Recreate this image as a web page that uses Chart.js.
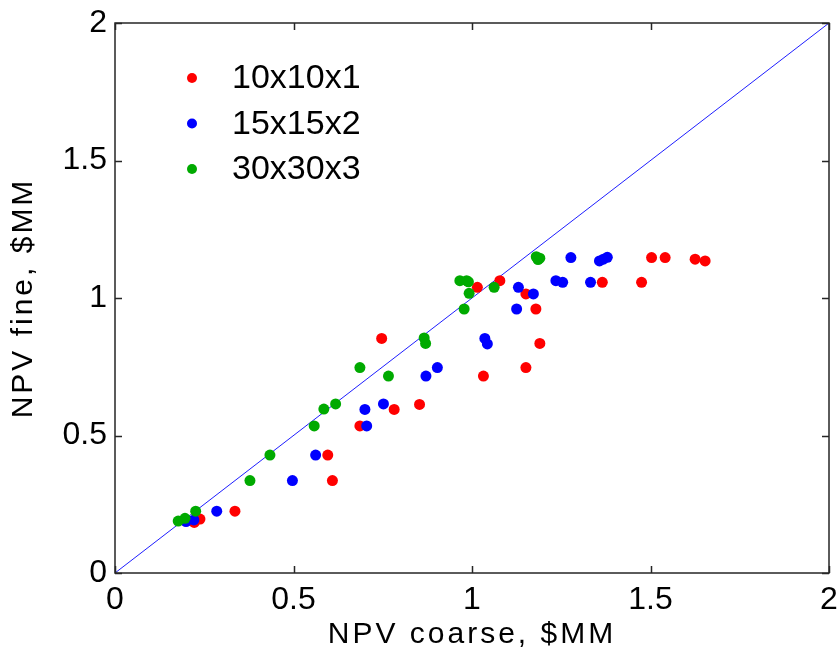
<!DOCTYPE html>
<html>
<head>
<meta charset="utf-8">
<script src="https://cdn.jsdelivr.net/npm/chart.js@4/dist/chart.umd.min.js"></script>
<style>
  html, body { margin: 0; padding: 0; background: #fff; }
  #wrap { width: 838px; height: 656px; }
</style>
</head>
<body>
<div id="wrap"><canvas id="c" width="838" height="656"></canvas></div>
<script>
// ---- Data ----
const seriesNames = ['10x10x1', '15x15x2', '30x30x3'];
const seriesColors = ['#ff0000', '#0000ff', '#00aa00'];

const redX = [0.222, 0.238, 0.336, 0.596, 0.609, 0.686, 0.747, 0.782, 0.853, 1.015, 1.032, 1.078, 1.151, 1.151, 1.179, 1.190, 1.365, 1.475, 1.503, 1.541, 1.625, 1.653];
const redY = [0.184, 0.196, 0.225, 0.429, 0.336, 0.535, 0.853, 0.595, 0.613, 1.039, 0.716, 1.063, 1.015, 0.747, 0.960, 0.835, 1.057, 1.057, 1.147, 1.147, 1.141, 1.135];

const blueX = [0.199, 0.221, 0.285, 0.497, 0.562, 0.700, 0.705, 0.752, 0.871, 0.903, 1.036, 1.043, 1.125, 1.130, 1.172, 1.235, 1.254, 1.277, 1.332, 1.357, 1.368, 1.379];
const blueY = [0.187, 0.193, 0.225, 0.336, 0.429, 0.595, 0.535, 0.615, 0.716, 0.747, 0.853, 0.833, 0.960, 1.039, 1.015, 1.063, 1.057, 1.147, 1.057, 1.135, 1.141, 1.148];

const greenX = [0.177, 0.196, 0.226, 0.378, 0.434, 0.558, 0.585, 0.618, 0.686, 0.766, 0.866, 0.870, 0.966, 0.985, 0.990, 0.992, 0.978, 1.062, 1.180, 1.185, 1.190];
const greenY = [0.189, 0.199, 0.225, 0.336, 0.429, 0.535, 0.596, 0.615, 0.747, 0.716, 0.855, 0.835, 1.063, 1.063, 1.059, 1.017, 0.960, 1.039, 1.150, 1.140, 1.145];

const diagX = [0, 2];
const diagY = [0, 2];

const xTickValues = [0, 0.5, 1, 1.5, 2];
const yTickValues = [0, 0.5, 1, 1.5, 2];
const xTickLabels = ['0', '0.5', '1', '1.5', '2'];
const yTickLabels = ['0', '0.5', '1', '1.5', '2'];
const xTitle = 'NPV coarse, $MM';
const yTitle = 'NPV fine, $MM';

// ---- Build ----
const FONT = '"Liberation Sans", Arial, Helvetica, sans-serif';
const toPts = (xs, ys) => xs.map((x, i) => ({ x: x, y: ys[i] }));

function spacedTitle(scale) {
  if (scale._spacedWrapped) return;
  scale._spacedWrapped = true;
  const orig = scale.drawTitle;
  scale.drawTitle = function () {
    const c = this.ctx;
    c.save();
    try { c.letterSpacing = '3px'; } catch (e) {}
    orig.apply(this, arguments);
    c.restore();
  };
}

const axisFrame = {
  id: 'axisFrame',
  afterDatasetsDraw(chart) {
    const { ctx, chartArea: a, scales: { x, y } } = chart;
    ctx.save();
    ctx.strokeStyle = '#262626';
    ctx.lineWidth = 1.5;
    ctx.strokeRect(a.left, a.top, a.right - a.left, a.bottom - a.top);
    const tl = 7;
    ctx.beginPath();
    xTickValues.forEach(v => {
      const px = Math.round(x.getPixelForValue(v)) + 0.5;
      ctx.moveTo(px, a.bottom); ctx.lineTo(px, a.bottom - tl);
      ctx.moveTo(px, a.top); ctx.lineTo(px, a.top + tl);
    });
    yTickValues.forEach(v => {
      const py = Math.round(y.getPixelForValue(v)) + 0.5;
      ctx.moveTo(a.left, py); ctx.lineTo(a.left + tl, py);
      ctx.moveTo(a.right, py); ctx.lineTo(a.right - tl, py);
    });
    ctx.stroke();
    ctx.restore();
  }
};

const insideLegend = {
  id: 'insideLegend',
  afterDraw(chart) {
    const { ctx, chartArea: a } = chart;
    ctx.save();
    ctx.font = '34px ' + FONT;
    ctx.textBaseline = 'middle';
    ctx.textAlign = 'left';
    seriesNames.forEach((name, i) => {
      const cy = a.top + 55 + i * 45.5;
      ctx.fillStyle = seriesColors[i];
      ctx.beginPath();
      ctx.arc(a.left + 77, cy, 5, 0, Math.PI * 2);
      ctx.fill();
      ctx.fillStyle = '#000';
      ctx.fillText(name, a.left + 117, cy + 1);
    });
    ctx.restore();
  }
};

new Chart(document.getElementById('c'), {
  type: 'scatter',
  data: {
    datasets: [
      { label: 'diag', type: 'line', data: toPts(diagX, diagY), borderColor: 'rgb(30,30,255)', borderWidth: 1, pointRadius: 0, fill: false, order: 10 },
      { label: seriesNames[0], data: toPts(redX, redY), backgroundColor: seriesColors[0], borderWidth: 0, pointRadius: 5.5, order: 3 },
      { label: seriesNames[1], data: toPts(blueX, blueY), backgroundColor: seriesColors[1], borderWidth: 0, pointRadius: 5.5, order: 2 },
      { label: seriesNames[2], data: toPts(greenX, greenY), backgroundColor: seriesColors[2], borderWidth: 0, pointRadius: 5.5, order: 1 }
    ]
  },
  options: {
    responsive: false,
    animation: false,
    events: [],
    layout: { padding: { left: 0, right: 9, top: 23, bottom: 0 } },
    plugins: { legend: { display: false }, tooltip: { enabled: false } },
    scales: {
      x: {
        type: 'linear', min: 0, max: 2, position: 'bottom',
        afterBuildTicks: s => { s.ticks = xTickValues.map(v => ({ value: v })); },
        ticks: { font: { size: 32, family: FONT }, color: '#000', padding: 8, maxRotation: 0,
                 callback: (v) => xTickLabels[xTickValues.indexOf(+v)] },
        grid: { display: false, drawTicks: false },
        border: { display: false },
        title: { display: true, text: xTitle, color: '#000', font: { size: 30, family: FONT }, padding: { top: 0, bottom: 3 } },
        afterFit: s => { s.height = 83; s.paddingLeft = 0; s.paddingRight = 0; spacedTitle(s); }
      },
      y: {
        type: 'linear', min: 0, max: 2, position: 'left',
        afterBuildTicks: s => { s.ticks = yTickValues.map(v => ({ value: v })); },
        ticks: { font: { size: 32, family: FONT }, color: '#000', padding: 8,
                 callback: (v) => yTickLabels[yTickValues.indexOf(+v)] },
        grid: { display: false, drawTicks: false },
        border: { display: false },
        title: { display: true, text: yTitle, color: '#000', font: { size: 30, family: FONT }, padding: { top: 6, bottom: 0 } },
        afterFit: s => { s.width = 115; s.paddingTop = 0; s.paddingBottom = 0; spacedTitle(s); }
      }
    }
  },
  plugins: [axisFrame, insideLegend]
});
</script>
</body>
</html>
